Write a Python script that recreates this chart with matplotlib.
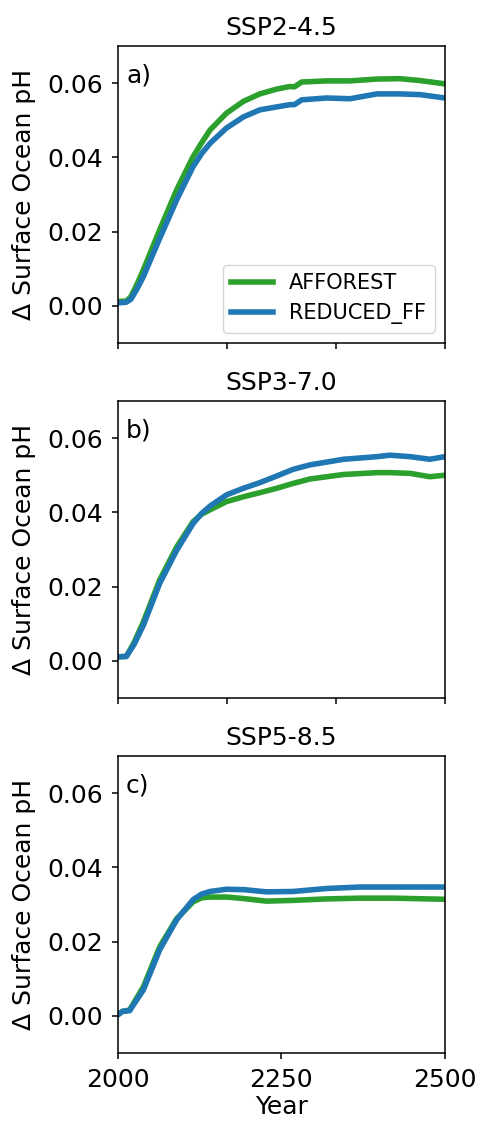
import numpy as np
import matplotlib
matplotlib.use("Agg")
import matplotlib.pyplot as plt

# scenario titles and panel tags
scenarios = ["SSP2-4.5", "SSP3-7.0", "SSP5-8.5"]
panel_tags = ["a)", "b)", "c)"]

# SSP2-4.5
years_a = [2000, 2013, 2020, 2030, 2039, 2064, 2090, 2115, 2128, 2141, 2166,
           2192, 2217, 2243, 2263, 2270, 2281, 2319, 2355, 2396, 2431, 2462, 2500]
afforest_a = [0.0012, 0.0013, 0.0025, 0.0061, 0.0097, 0.0205, 0.0313, 0.0402,
              0.0439, 0.0474, 0.0519, 0.0551, 0.0571, 0.0584, 0.0591, 0.0590,
              0.0603, 0.0606, 0.0606, 0.0611, 0.0612, 0.0607, 0.0598]
reduced_a = [0.0008, 0.0010, 0.0018, 0.0048, 0.0079, 0.0182, 0.0286, 0.0375,
             0.0410, 0.0438, 0.0479, 0.0509, 0.0528, 0.0536, 0.0542, 0.0542,
             0.0555, 0.0560, 0.0558, 0.0571, 0.0571, 0.0569, 0.0560]

# SSP3-7.0
years_b = [2000, 2013, 2025, 2039, 2064, 2090, 2115, 2128, 2141, 2166, 2192,
           2217, 2243, 2268, 2294, 2345, 2396, 2416, 2447, 2477, 2500]
afforest_b = [0.0011, 0.0012, 0.0050, 0.0105, 0.0218, 0.0307, 0.0375, 0.0395,
              0.0407, 0.0429, 0.0442, 0.0453, 0.0465, 0.0478, 0.0490, 0.0502,
              0.0507, 0.0507, 0.0505, 0.0496, 0.0500]
reduced_b = [0.0011, 0.0012, 0.0045, 0.0096, 0.0209, 0.0298, 0.0370, 0.0397,
             0.0417, 0.0447, 0.0465, 0.0480, 0.0498, 0.0516, 0.0528, 0.0543,
             0.0550, 0.0554, 0.0550, 0.0543, 0.0550]

# SSP5-8.5
years_c = [2000, 2007, 2018, 2039, 2064, 2090, 2115, 2128, 2141, 2166, 2192,
           2227, 2268, 2319, 2370, 2421, 2500]
afforest_c = [0.0003, 0.0012, 0.0016, 0.0078, 0.0186, 0.0262, 0.0307, 0.0318,
              0.0320, 0.0320, 0.0316, 0.0309, 0.0311, 0.0315, 0.0317, 0.0317,
              0.0314]
reduced_c = [0.0003, 0.0012, 0.0014, 0.0070, 0.0178, 0.0259, 0.0313, 0.0328,
             0.0335, 0.0341, 0.0340, 0.0334, 0.0335, 0.0343, 0.0347, 0.0347,
             0.0347]

years = [years_a, years_b, years_c]
afforest = [afforest_a, afforest_b, afforest_c]
reduced = [reduced_a, reduced_b, reduced_c]

plt.rcParams.update({
    "font.size": 18,
    "axes.linewidth": 1.1,
    "xtick.major.size": 4.2,
    "ytick.major.size": 4.2,
    "xtick.major.width": 1.1,
    "ytick.major.width": 1.1,
    "xtick.major.pad": 6.5,
    "ytick.major.pad": 6.5,
})

fig, axes = plt.subplots(3, 1, figsize=(4.81, 11.22), dpi=100)
fig.subplots_adjust(left=0.245, right=0.925, top=0.959, bottom=0.0615,
                    hspace=0.195)

for i, ax in enumerate(axes):
    ax.plot(years[i], afforest[i], color="tab:green", lw=4, label="AFFOREST")
    ax.plot(years[i], reduced[i], color="tab:blue", lw=4, label="REDUCED_FF")
    ax.set_xlim(2000, 2500)
    ax.set_ylim(-0.01, 0.07)
    ax.set_yticks([0.0, 0.02, 0.04, 0.06])
    ax.set_title(scenarios[i], fontsize=18, pad=8)
    ax.set_ylabel("Δ Surface Ocean pH", labelpad=8)
    ax.text(0.025, 0.9, panel_tags[i], transform=ax.transAxes,
            ha="left", va="center")
    if i < 2:
        ax.set_xticks(np.linspace(2000, 2500, 4))
        ax.set_xticklabels([])
    else:
        ax.set_xticks([2000, 2250, 2500])
        ax.set_xlabel("Year", labelpad=2)

axes[0].legend(loc="lower right", fontsize=15)

fig.savefig("out.png", dpi=100)
